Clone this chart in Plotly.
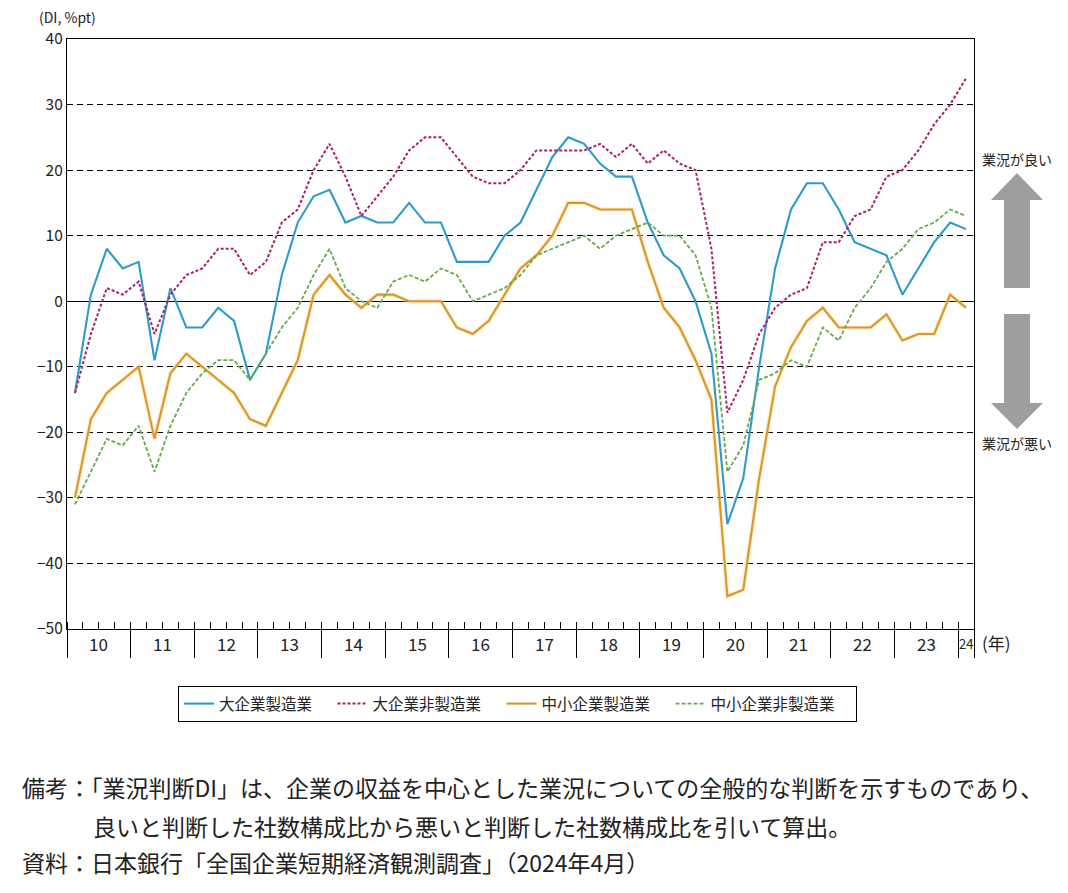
import plotly.graph_objects as go

# ---------------- data ----------------
years = ["10", "11", "12", "13", "14", "15", "16", "17", "18", "19", "20", "21", "22", "23", "24"]
quarters_per_year = [4] * 14 + [1]

large_mfg = [-14, 1, 8, 5, 6, -9, 2, -4, -4, -1, -3, -12, -8, 4, 12, 16,
             17, 12, 13, 12, 12, 15, 12, 12, 6, 6, 6, 10, 12, 17, 22, 25,
             24, 21, 19, 19, 12, 7, 5, 0, -8, -34, -27, -10, 5, 14, 18, 18,
             14, 9, 8, 7, 1, 5, 9, 12, 11]
large_nonmfg = [-14, -5, 2, 1, 3, -5, 1, 4, 5, 8, 8, 4, 6, 12, 14, 20,
                24, 19, 13, 16, 19, 23, 25, 25, 22, 19, 18, 18, 20, 23, 23, 23,
                23, 24, 22, 24, 21, 23, 21, 20, 8, -17, -12, -5, -1, 1, 2, 9,
                9, 13, 14, 19, 20, 23, 27, 30, 34]
sme_mfg = [-30, -18, -14, -12, -10, -21, -11, -8, -10, -12, -14, -18, -19, -14, -9, 1,
           4, 1, -1, 1, 1, 0, 0, 0, -4, -5, -3, 1, 5, 7, 10, 15,
           15, 14, 14, 14, 6, -1, -4, -9, -15, -45, -44, -27, -13, -7, -3, -1,
           -4, -4, -4, -2, -6, -5, -5, 1, -1]
sme_nonmfg = [-31, -26, -21, -22, -19, -26, -19, -14, -11, -9, -9, -12, -8, -4, -1, 4,
              8, 2, 0, -1, 3, 4, 3, 5, 4, 0, 1, 2, 4, 7, 8, 9,
              10, 8, 10, 11, 12, 10, 10, 7, -1, -26, -22, -12, -11, -9, -10, -4,
              -6, -1, 2, 6, 8, 11, 12, 14, 13]

series_names = ["大企業製造業", "大企業非製造業", "中小企業製造業", "中小企業非製造業"]
series_colors = ["#2E9ACB", "#A8206E", "#D9962F", "#6AAA4C"]

y_ticks = [40, 30, 20, 10, 0, -10, -20, -30, -40, -50]

# ---------------- geometry helpers ----------------
OFF = 8                      # page body margin of the browser
W, H = 1068 - OFF, 893 - OFF
L, R, T, B = 67, 974, 39, 629   # plot area in page pixels


def px(xp):
    return (xp - L) / (R - L)


def py(yp):
    return (B - yp) / (B - T)


n = sum(quarters_per_year)
xq = [i + 0.5 for i in range(n)]
FONT = "Noto Sans CJK JP, Noto Sans, sans-serif"

fig = go.Figure()

# subtle halo under the orange line
fig.add_trace(go.Scatter(x=xq, y=sme_mfg, mode="lines", showlegend=False, hoverinfo="skip",
                         line=dict(color="rgba(255,220,140,0.45)", width=4.5)))

dashes = ["solid", "3px,2px", "solid", "4px,2px"]
widths = [2.1, 2.0, 2.1, 1.8]
for name, vals, col, dsh, w in zip(series_names,
                                    [large_mfg, large_nonmfg, sme_mfg, sme_nonmfg],
                                    series_colors, dashes, widths):
    fig.add_trace(go.Scatter(x=xq, y=vals, mode="lines", name=name + "\u2003",
                             line=dict(color=col, width=w, dash=dsh)))

# year boundaries
bounds = [0]
for q in quarters_per_year:
    bounds.append(bounds[-1] + q)

fig.update_xaxes(range=[0, n], showgrid=False, zeroline=False,
                 showline=True, linecolor="black", linewidth=1.2, mirror=True,
                 tickmode="array", tickvals=bounds, ticktext=[""] * len(bounds),
                 ticks="outside", ticklen=28, tickcolor="black", tickwidth=1.2,
                 minor=dict(tickmode="linear", tick0=0, dtick=1, ticks="inside",
                            ticklen=7, tickcolor="black", tickwidth=1, showgrid=False))

fig.update_yaxes(range=[-50, 40], tickmode="array", tickvals=y_ticks,
                 showgrid=True, gridcolor="black", gridwidth=1, griddash="6px,4px",
                 zeroline=True, zerolinecolor="black", zerolinewidth=1.2,
                 showline=True, linecolor="black", linewidth=1.2, mirror=True,
                 ticks="", tickfont=dict(size=15.5, color="#222", family=FONT))

annotations = []
# year labels
for i, yl in enumerate(years):
    c = (bounds[i] + bounds[i + 1]) / 2
    annotations.append(dict(x=c, y=0, xref="x", yref="paper", text=yl, showarrow=False,
                            yanchor="middle", yshift=-14,
                            font=dict(size=17 if yl != "24" else 13, color="#222", family=FONT)))
annotations.append(dict(x=px(996), y=py(642), xref="paper", yref="paper", text="(年)",
                        showarrow=False, xanchor="center", yanchor="middle",
                        font=dict(size=17, color="#222", family=FONT)))
annotations.append(dict(x=px(38), y=py(17), xref="paper", yref="paper", text="(DI, %pt)",
                        showarrow=False, xanchor="left", yanchor="middle", borderpad=0,
                        font=dict(size=14, color="#222", family=FONT)))
annotations.append(dict(x=px(1017), y=py(159), xref="paper", yref="paper", text="業況が良い",
                        showarrow=False, xanchor="center", yanchor="middle",
                        font=dict(size=14, color="#222", family=FONT)))
annotations.append(dict(x=px(1017), y=py(443), xref="paper", yref="paper", text="業況が悪い",
                        showarrow=False, xanchor="center", yanchor="middle",
                        font=dict(size=14, color="#222", family=FONT)))

notes = [
    (20, 787, "備考：「業況判断DI」は、企業の収益を中心とした業況についての全般的な判断を示すものであり、"),
    (91, 826, "良いと判断した社数構成比から悪いと判断した社数構成比を引いて算出。"),
    (20, 862, "資料：日本銀行「全国企業短期経済観測調査」（2024年4月）"),
]
for xpix, ypix, txt in notes:
    annotations.append(dict(x=px(xpix), y=py(ypix), xref="paper", yref="paper", text=txt,
                            showarrow=False, xanchor="left", yanchor="middle",
                            font=dict(size=23, color="#222", family=FONT)))


def poly(points):
    d = "M " + " L ".join(f"{px(a):.5f},{py(b):.5f}" for a, b in points) + " Z"
    return dict(type="path", path=d, xref="paper", yref="paper",
                fillcolor="#9E9E9E", line=dict(width=0), layer="above")


up = [(1004, 288), (1004, 200), (991, 200), (1017, 173), (1043, 200), (1030, 200), (1030, 288)]
down = [(1004, 314), (1004, 403), (991, 403), (1017, 429), (1043, 403), (1030, 403), (1030, 314)]

fig.update_layout(
    width=W, height=H,
    margin=dict(l=L - OFF, r=W - (R - OFF), t=T - OFF, b=H - (B - OFF), autoexpand=False),
    paper_bgcolor="white", plot_bgcolor="white",
    font=dict(family=FONT, color="#222"),
    annotations=annotations,
    shapes=[poly(up), poly(down)],
    showlegend=True,
    legend=dict(orientation="h", x=px(178), y=py(686), xanchor="left", yanchor="top",
                bordercolor="black", borderwidth=1, bgcolor="white",
                font=dict(size=15.5, color="#222", family=FONT),
                itemwidth=30, tracegroupgap=0),
)

fig.write_html("out.html")
